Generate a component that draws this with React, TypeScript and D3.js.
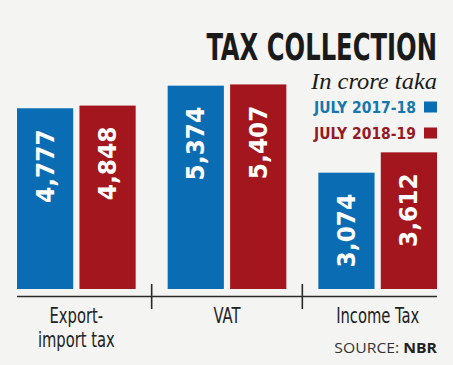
import { useEffect, useRef } from 'react'
import * as d3 from 'd3'

const categories = ['Export-\nimport tax', 'VAT', 'Income Tax']
const seriesNames = ['JULY 2017-18', 'JULY 2018-19']
const values2017 = [4777, 5374, 3074]
const values2018 = [4848, 5407, 3612]

const BLUE = '#0a6db4'
const RED = '#a4161d'
const LEG_BLUE = '#1577ad'
const LEG_RED = '#951a24'
const NARROW = '"DejaVu Sans Condensed", "Liberation Sans Narrow", sans-serif'

export default function App() {
  const svgRef = useRef<SVGSVGElement | null>(null)

  useEffect(() => {
    const width = 453
    const height = 365
    const svg = d3.select(svgRef.current)
    svg.selectAll('*').remove()
    svg.attr('width', width).attr('height', height)

    svg.append('rect').attr('width', width).attr('height', height).attr('fill', '#f4f4f3')

    // text placed at (x, y), optionally rotated, squeezed horizontally by sx
    const label = (x: number, y: number, sx: number, rot = 0) =>
      svg.append('text')
        .attr('transform', `translate(${x},${y}) rotate(${rot}) scale(${sx},1)`)

    const x0 = d3.scaleBand<string>().domain(categories).range([1, 453]).padding(0)
    const x1 = d3.scaleBand<string>().domain(seriesNames)
      .range([16, x0.step() - 16]).paddingInner(0.1)
    const y = d3.scaleLinear().domain([0, 6000]).range([289, 62])

    const rows = categories.map((c, i) => ({ cat: c, vals: [values2017[i], values2018[i]] }))
    const colors = [BLUE, RED]

    // bars
    rows.forEach(r => {
      r.vals.forEach((v, j) => {
        const bx = x0(r.cat)! + x1(seriesNames[j])!
        svg.append('rect')
          .attr('x', bx)
          .attr('y', y(v))
          .attr('width', x1.bandwidth())
          .attr('height', y(0) - y(v))
          .attr('fill', colors[j])
        const cx = bx + x1.bandwidth() / 2
        label(cx + 8.5, y(v) + 21, 1.08, -90)
          .attr('text-anchor', 'end')
          .attr('fill', '#ffffff')
          .attr('font-family', NARROW)
          .attr('font-weight', 'bold')
          .attr('font-size', '24px')
          .text(d3.format(',')(v))
      })
    })

    // axis line + group separators
    svg.append('line')
      .attr('x1', 17).attr('x2', 437)
      .attr('y1', 296.5).attr('y2', 296.5)
      .attr('stroke', '#2a2a2a').attr('stroke-width', 1.6)
    categories.slice(1).forEach(c => {
      svg.append('line')
        .attr('x1', x0(c)!).attr('x2', x0(c)!)
        .attr('y1', 284).attr('y2', 309)
        .attr('stroke', '#2a2a2a').attr('stroke-width', 1.6)
    })

    // category labels
    categories.forEach(c => {
      c.split('\n').forEach((line, k) => {
        label(x0(c)! + x0.bandwidth() / 2, 323 + k * 24, 0.8)
          .attr('text-anchor', 'middle')
          .attr('fill', '#222')
          .attr('font-family', NARROW)
          .attr('font-size', '20.5px')
          .text(line)
      })
    })

    // title
    label(437, 60, 0.71)
      .attr('text-anchor', 'end')
      .attr('fill', '#1a1a1a')
      .attr('font-family', NARROW)
      .attr('font-weight', 'bold')
      .attr('font-size', '38px')
      .text('TAX COLLECTION')

    label(437, 89, 1.02)
      .attr('text-anchor', 'end')
      .attr('fill', '#1a1a1a')
      .attr('font-family', '"Liberation Serif", "DejaVu Serif", serif')
      .attr('font-style', 'italic')
      .attr('font-size', '24px')
      .text('In crore taka')

    // legend
    const legColors = [LEG_BLUE, LEG_RED]
    const legSq = [BLUE, RED]
    seriesNames.forEach((s, i) => {
      const by = 112.5 + i * 26
      label(416, by, 0.94)
        .attr('text-anchor', 'end')
        .attr('fill', legColors[i])
        .attr('font-family', NARROW)
        .attr('font-weight', 'bold')
        .attr('font-size', '16.5px')
        .text(s)
      svg.append('rect')
        .attr('x', 424).attr('y', by - 11)
        .attr('width', 13).attr('height', 11)
        .attr('fill', legSq[i])
    })

    // source
    const src = label(437, 353, 1.05)
      .attr('text-anchor', 'end')
      .attr('fill', '#333')
      .attr('font-family', '"Open Sans", "Liberation Sans", sans-serif')
      .attr('font-size', '15px')
    src.append('tspan').text('SOURCE: ')
    src.append('tspan').attr('font-weight', 'bold').attr('fill', '#222').text('NBR')
  }, [])

  return (
    <svg ref={svgRef} style={{ position: 'absolute', left: 0, top: 0, display: 'block' }} />
  )
}
